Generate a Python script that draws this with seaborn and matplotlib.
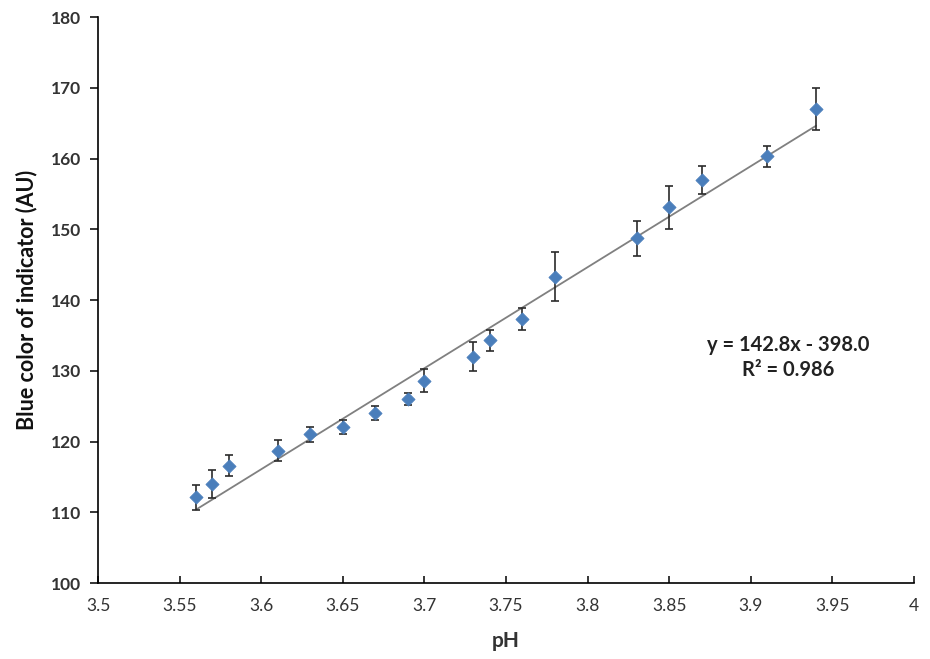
import numpy as np
import pandas as pd
import seaborn as sns
import matplotlib.pyplot as plt

# Measured pH and blue channel intensity of the indicator (mean ± SD)
ph = [3.56, 3.57, 3.58, 3.61, 3.63, 3.65, 3.67, 3.69, 3.70, 3.73,
      3.74, 3.76, 3.78, 3.83, 3.85, 3.87, 3.91, 3.94]
blue = [112.1, 114.0, 116.6, 118.7, 121.0, 122.0, 124.0, 126.0, 128.6, 132.0,
        134.3, 137.3, 143.3, 148.7, 153.1, 157.0, 160.3, 167.0]
blue_sd = [1.8, 2.0, 1.5, 1.5, 1.0, 1.0, 1.0, 0.9, 1.6, 2.0,
           1.5, 1.5, 3.5, 2.5, 3.0, 2.0, 1.5, 3.0]

# Linear fit reported on the chart
slope, intercept = 142.8, -398.0
r_squared = 0.986

x_ticks = [3.5, 3.55, 3.6, 3.65, 3.7, 3.75, 3.8, 3.85, 3.9, 3.95, 4]
x_tick_labels = ["3.5", "3.55", "3.6", "3.65", "3.7", "3.75", "3.8", "3.85", "3.9", "3.95", "4"]
y_ticks = [100, 110, 120, 130, 140, 150, 160, 170, 180]

df = pd.DataFrame({"pH": ph, "blue": blue, "sd": blue_sd})

sns.set_theme(style="white")
plt.rcParams["font.family"] = ["Lato", "DejaVu Sans"]

fig = plt.figure(figsize=(9.3, 6.59), dpi=100)
ax = fig.add_axes([0.1054, 0.1153, 0.8774, 0.8589])

# Trend line across the measured pH range
fit_x = np.array([min(ph), max(ph)])
fit_df = pd.DataFrame({"pH": fit_x, "blue": slope * fit_x + intercept})
sns.lineplot(data=fit_df, x="pH", y="blue", ax=ax, color="#808080", lw=1.3, zorder=1)

ax.errorbar(df["pH"], df["blue"], yerr=df["sd"], fmt="none", ecolor="#2b2b2b",
            elinewidth=1.2, capsize=3.0, capthick=1.2, zorder=2)
sns.scatterplot(data=df, x="pH", y="blue", ax=ax, marker="D", s=45,
                color="#4a7ebb", edgecolor="#4a7ebb", zorder=3)

ax.set_xlim(3.5, 4.0)
ax.set_ylim(100, 180)
ax.set_xticks(x_ticks)
ax.set_xticklabels(x_tick_labels)
ax.set_yticks(y_ticks)

for side in ["top", "right"]:
    ax.spines[side].set_visible(False)
for side in ["left", "bottom"]:
    ax.spines[side].set_color("#000000")
    ax.spines[side].set_linewidth(1.2)

ax.tick_params(axis="x", direction="in", length=5, width=1.1, color="#000000",
               labelsize=12.5, pad=11, bottom=True)
ax.tick_params(axis="y", direction="out", length=6, width=1.1, color="#000000",
               labelsize=12.5, pad=6, left=True)
for lbl in ax.get_yticklabels():
    lbl.set_fontweight("bold")
    lbl.set_color("#333333")
for lbl in ax.get_xticklabels():
    lbl.set_color("#333333")

ax.set_xlabel("pH", fontsize=15, fontweight="bold", color="#333333", labelpad=12)
ax.set_ylabel("Blue color of indicator (AU)", fontsize=15.5, fontweight="bold",
              color="#111111", labelpad=10)

ax.text(3.9228, 131.9, f"y = {slope:.1f}x - {abs(intercept):.1f}\nR² = {r_squared:.3f}",
        ha="center", va="center", fontsize=14.5, fontweight="bold", color="#222222",
        linespacing=1.3)

fig.savefig("out.png", dpi=100)
